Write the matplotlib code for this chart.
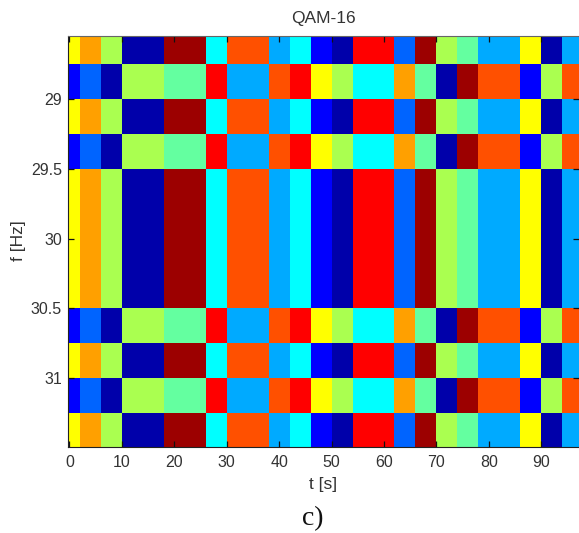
import numpy as np
import matplotlib
matplotlib.use("Agg")
import matplotlib.pyplot as plt
from matplotlib.colors import ListedColormap

# 12 level jet palette
palette = ["#0000aa", "#0000ff", "#0064ff", "#00aaff", "#00ffff", "#64ffa0",
           "#aaff50", "#ffff00", "#ffa000", "#ff5000", "#ff0000", "#9c0000"]

# cell edges
t_edges = np.arange(-2, 99, 4)
f_edges = np.arange(28.5, 31.51, 0.25)

# level index for each 4 s symbol, the two patterns seen in the rows
row_a = [7, 8, 6, 0, 0, 11, 11, 4, 9, 9, 3, 4, 1, 0, 10, 10, 2, 11, 6, 5, 3, 3, 7, 0, 3]
row_b = [1, 2, 0, 6, 6, 5, 5, 10, 3, 3, 9, 10, 7, 6, 4, 4, 8, 5, 0, 11, 9, 9, 1, 6, 9]

# which pattern each 0.25 Hz row uses, top to bottom
row_order = ["a", "b", "a", "b", "a", "a", "a", "a", "b", "a", "b", "a"]

xticks = [0, 10, 20, 30, 40, 50, 60, 70, 80, 90]
yticks = [29, 29.5, 30, 30.5, 31]
yticklabels = ["29", "29.5", "30", "30.5", "31"]

plt.rcParams['font.family'] = ['Liberation Sans', 'DejaVu Sans']
text_col = "#333333"

W, H = 579, 533
fig = plt.figure(figsize=(W / 100, H / 100), dpi=100)
ax = fig.add_axes([67.5 / W, (H - 446.7) / H, (W - 67.5) / W, (446.7 - 36) / H])

z = np.array([row_a if r == "a" else row_b for r in row_order])
ax.pcolormesh(t_edges, f_edges, z, cmap=ListedColormap(palette), vmin=-0.5, vmax=11.5,
              antialiased=False)

ax.set_xlim(-0.38, 97.2)
ax.set_ylim(31.49, 28.55)
ax.set_xticks(xticks)
ax.set_yticks(yticks)
ax.set_yticklabels(yticklabels)
ax.tick_params(axis="both", direction="in", length=4.5, width=0.9, color="#111111",
               top=True, right=True, labelsize=11.5, labelcolor=text_col)
ax.tick_params(axis="x", pad=6)
ax.tick_params(axis="y", pad=4)
for s in ["left", "bottom"]:
    ax.spines[s].set_color("#222222")
ax.spines["top"].set_color("#666666")
ax.spines["right"].set_visible(False)

# axes runs off the right edge of the picture, so labels go by pixel
fig.text(323 / W, 1 - 18 / H, "QAM-16", ha="center", va="center", fontsize=12.5, color=text_col)
fig.text(323 / W, 1 - 485 / H, "t [s]", ha="center", va="center", fontsize=12.5, color=text_col)
fig.text(18 / W, 1 - 241 / H, "f [Hz]", ha="center", va="center", rotation=90, fontsize=12.5, color=text_col)
fig.text(313 / W, 1 - 519 / H, "c)", ha="center", va="center", fontsize=20,
         family="Liberation Serif", color="#111111")

fig.savefig("out.png", dpi=100)
